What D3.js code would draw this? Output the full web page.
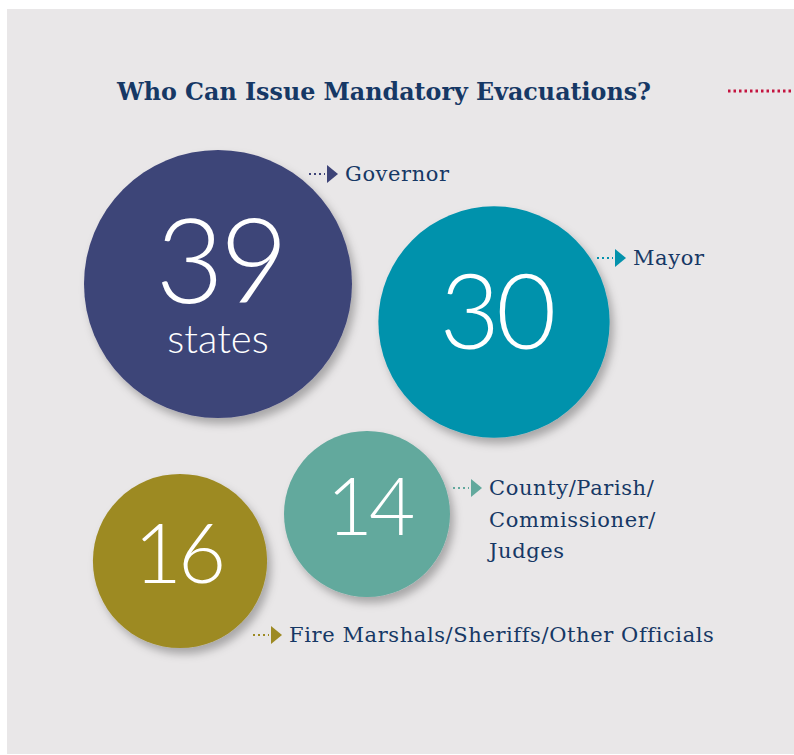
<!DOCTYPE html>
<html>
<head>
<meta charset="utf-8">
<script src="https://cdn.jsdelivr.net/npm/d3@7"></script>
<style>
  html, body { margin: 0; padding: 0; background: #fff; }
  svg { display: block; }
</style>
</head>
<body>
<svg id="chart" width="794" height="755"></svg>
<script>
// data
var categories = ["Governor", "Mayor", "County/Parish/Commissioner/Judges", "Fire Marshals/Sheriffs/Other Officials"];
var counts = [39, 30, 14, 16];
var labelLines = [["Governor"], ["Mayor"], ["County/Parish/", "Commissioner/", "Judges"], ["Fire Marshals/Sheriffs/Other Officials"]];
var subLabels = ["states", "", "", ""];

// colours for each bubble
var colors = ["#3e4478", "#0392ac", "#62a99d", "#9d8a23"];

// layout (bubble centres and label anchors)
var centerX = [218, 494, 367, 180];
var centerY = [284, 322, 514, 561];
var labelX = [345, 633, 489, 289];
var labelY = [181, 265, 495, 642];

var svg = d3.select("#chart"),
    width = +svg.attr("width"),
    height = +svg.attr("height");

var ink = "#163865";

// drop shadow for the bubbles
var defs = svg.append("defs");
var shadow = defs.append("filter").attr("id", "shadow")
    .attr("x", "-20%").attr("y", "-20%").attr("width", "150%").attr("height", "150%");
shadow.append("feDropShadow")
    .attr("dx", 4).attr("dy", 6).attr("stdDeviation", 4)
    .attr("flood-color", "#000").attr("flood-opacity", 0.28);

// background panel
svg.append("rect")
    .attr("x", 7).attr("y", 9)
    .attr("width", width - 7).attr("height", 745)
    .attr("fill", "#e9e7e8");

// title
svg.append("text")
    .attr("x", 117).attr("y", 100)
    .attr("font-family", "DejaVu Serif")
    .attr("font-stretch", "condensed")
    .attr("font-weight", "bold")
    .attr("font-size", 25)
    .attr("fill", ink)
    .attr("textLength", 534)
    .attr("lengthAdjust", "spacingAndGlyphs")
    .text("Who Can Issue Mandatory Evacuations?");

// red dotted rule at the top right
svg.append("line")
    .attr("x1", 728).attr("x2", width)
    .attr("y1", 91).attr("y2", 91)
    .attr("stroke", "#c4143f")
    .attr("stroke-width", 3)
    .attr("stroke-dasharray", "2.5 3");

// bubble radius scale
var r = d3.scaleLinear()
    .domain([14, 39])
    .range([83, 134]);

// font size of the numbers follows the radius
var numSize = d3.scaleLinear()
    .domain([14, 39])
    .range([80, 118]);

var data = categories.map(function (c, i) {
    return { name: c, count: counts[i], lines: labelLines[i], sub: subLabels[i], i: i };
});

var bubble = svg.selectAll(".bubble")
    .data(data)
    .enter().append("g")
    .attr("class", "bubble");

bubble.append("circle")
    .attr("cx", function (d) { return centerX[d.i]; })
    .attr("cy", function (d) { return centerY[d.i]; })
    .attr("r", function (d) { return r(d.count); })
    .attr("fill", function (d) { return colors[d.i]; })
    .attr("filter", "url(#shadow)");

// big number (plus "states" under the first one, in the same text)
var num = bubble.append("text")
    .attr("text-anchor", "middle")
    .attr("font-family", "Lato")
    .attr("font-weight", 300)
    .attr("fill", "#fff");

num.append("tspan")
    .attr("x", function (d) { return centerX[d.i] + (d.i === 3 ? -2 : 2); })
    .attr("y", function (d) { return d.sub ? centerY[d.i] + 19 : centerY[d.i] + numSize(d.count) * 0.26; })
    .attr("font-size", function (d) { return numSize(d.count); })
    .attr("letter-spacing", -4)
    .text(function (d) { return d.count; });

num.filter(function (d) { return d.sub; })
    .append("tspan")
    .attr("x", function (d) { return centerX[d.i]; })
    .attr("y", function (d) { return centerY[d.i] + 69; })
    .attr("font-size", 40)
    .text(function (d) { return d.sub; });

// pointer: dotted lead-in plus triangle
bubble.append("line")
    .attr("x1", function (d) { return labelX[d.i] - 36; })
    .attr("x2", function (d) { return labelX[d.i] - 20; })
    .attr("y1", function (d) { return labelY[d.i] - 7; })
    .attr("y2", function (d) { return labelY[d.i] - 7; })
    .attr("stroke", function (d) { return colors[d.i]; })
    .attr("stroke-width", 2)
    .attr("stroke-dasharray", "2 3");

bubble.append("path")
    .attr("d", function (d) {
        var x = labelX[d.i] - 18, y = labelY[d.i] - 7;
        return "M" + x + "," + (y - 9) + "L" + (x + 11) + "," + y + "L" + x + "," + (y + 9) + "Z";
    })
    .attr("fill", function (d) { return colors[d.i]; });

// label text
var label = bubble.append("text")
    .attr("x", function (d) { return labelX[d.i]; })
    .attr("y", function (d) { return labelY[d.i]; })
    .attr("font-family", "DejaVu Serif")
    .attr("font-size", 21)
    .attr("letter-spacing", 0.6)
    .attr("fill", ink);

label.selectAll("tspan")
    .data(function (d) { return d.lines.map(function (l) { return { text: l, x: labelX[d.i] }; }); })
    .enter().append("tspan")
    .attr("x", function (t) { return t.x; })
    .attr("dy", function (t, k) { return k === 0 ? 0 : 31.5; })
    .text(function (t) { return t.text; });
</script>
</body>
</html>
